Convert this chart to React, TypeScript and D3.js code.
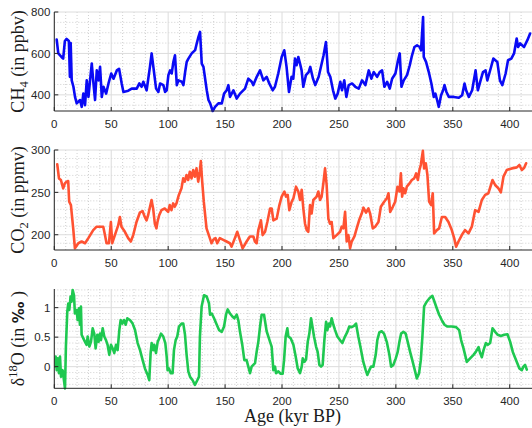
import React from "react";
import * as d3 from "d3";

// ---------- data ----------
const xTicks = [0, 50, 100, 150, 200, 250, 300, 350, 400];

const ch4Ages = [2.1, 3.5, 6.3, 7.8, 9.3, 10.8, 12.8, 13.7, 14.4, 15.3, 16.8, 18.2, 19.7, 22.6, 24.1, 25.5, 27, 28.5, 30, 31.4, 32.9, 34.4, 35.8, 37.3, 38.8, 40.2, 41.7, 43.2, 45.5, 47.6, 50, 52, 54.9, 56.9, 59.2, 60.7, 65, 68, 72.4, 74.7, 76.7, 78.2, 81.1, 84, 85.5, 87, 89.4, 91.4, 92.9, 95.8, 97.3, 98.7, 100.2, 101.7, 103.1, 104.6, 106, 107.6, 109, 112, 113.4, 114.9, 116.3, 117.8, 120.7, 123.7, 125.1, 126.6, 128, 129.5, 131, 133.9, 135.4, 136.9, 139.1, 141.2, 144.1, 147.1, 149.1, 151.4, 152.9, 154.3, 157.3, 160.2, 163.1, 167.5, 170.4, 173.4, 174.8, 177.8, 180.7, 183.6, 186.5, 188.8, 191.8, 193.8, 196.7, 199.7, 202, 204, 206.1, 208.4, 209.9, 211.4, 212.8, 214.3, 215.8, 217.2, 218.7, 221, 223.4, 224.8, 227.2, 229.2, 232.2, 234.5, 236.5, 238.6, 240.4, 242.4, 244.8, 246.8, 248.9, 251.2, 252.7, 254.7, 256.5, 258.6, 261.5, 264.4, 267.4, 270.3, 273.2, 276.2, 278.5, 280.5, 283.5, 285.8, 287.9, 289.9, 292.3, 294.6, 296.7, 299.6, 301.6, 303.4, 304.9, 306.9, 309.8, 312.2, 314.2, 316.3, 318.6, 321, 322.1, 323.9, 324.5, 326.5, 328.9, 331.2, 333.3, 334.7, 336.2, 337.7, 339.7, 341.5, 342.7, 344.4, 346.5, 350.9, 355.3, 358.2, 360.3, 361.7, 364.1, 367, 370, 372, 374.4, 376.5, 378.8, 380.3, 383.2, 385.6, 389.1, 391.4, 393.5, 396.4, 398.5, 401.4, 403.8, 406.1, 407.3, 409.1, 412.6, 415.5, 417.9];
const ch4Values = [667, 600, 583, 575, 660, 670, 660, 487, 650, 470, 439, 390, 359, 375, 342, 406, 350, 470, 390, 470, 551, 455, 375, 518, 470, 535, 390, 439, 406, 455, 503, 478, 518, 526, 455, 414, 420, 430, 430, 455, 439, 463, 422, 535, 600, 535, 430, 414, 455, 447, 414, 422, 495, 518, 503, 559, 591, 447, 470, 463, 447, 510, 559, 575, 600, 616, 648, 680, 704, 551, 535, 422, 375, 359, 322, 342, 359, 359, 406, 422, 447, 390, 422, 382, 406, 430, 478, 463, 447, 487, 518, 470, 487, 455, 422, 439, 503, 583, 615, 535, 414, 487, 478, 575, 543, 583, 551, 518, 439, 495, 510, 535, 478, 447, 487, 543, 591, 655, 510, 487, 422, 382, 406, 463, 422, 470, 390, 447, 455, 439, 430, 470, 447, 518, 478, 510, 487, 510, 518, 439, 463, 430, 478, 503, 559, 600, 439, 470, 495, 543, 591, 631, 639, 631, 615, 776, 583, 559, 510, 455, 390, 406, 375, 342, 398, 422, 447, 414, 390, 390, 386, 398, 455, 422, 390, 422, 518, 422, 470, 510, 518, 470, 526, 575, 559, 470, 447, 503, 567, 575, 600, 672, 631, 648, 631, 664, 696];

const co2Ages = [2.6, 4.1, 5.8, 7.8, 9.3, 10.8, 12.2, 13.1, 14.6, 16.6, 18.1, 21.1, 24, 27, 29.9, 34.2, 37.2, 43, 44.5, 45.9, 48, 49.7, 50.9, 53.2, 56.1, 57.6, 59, 62, 64.9, 67.2, 69.3, 72.2, 75.1, 77.5, 79.5, 81, 82.4, 85.4, 86.8, 88.3, 89.7, 90.6, 92.1, 94.1, 97, 100, 101.4, 102.9, 104.4, 105.8, 107.3, 109.4, 111.7, 113.2, 114.6, 116.1, 117.6, 119, 120.5, 122, 123.4, 124.9, 126.4, 127.8, 128.7, 129.9, 131.3, 133.7, 136.6, 138.1, 139.6, 141.6, 143.1, 145.4, 148.4, 151.3, 154.2, 155.7, 158.6, 160.7, 163, 165.4, 168.9, 171.8, 174.8, 176.2, 177.7, 179.2, 181.5, 183, 185.1, 187.1, 189.5, 190.9, 192.4, 195.3, 197.7, 199.7, 202.1, 203.5, 205, 206.4, 208.5, 210, 212.3, 214.3, 215.8, 217.3, 218.7, 220.2, 221.7, 223.1, 224.6, 226, 227.5, 230.4, 231.9, 233.4, 234.8, 236.3, 237.8, 239.2, 240.7, 242.1, 243.6, 245.1, 248, 251, 252.4, 253.9, 255.4, 256.8, 258.3, 259.8, 261.2, 263.6, 265.6, 267.7, 270, 271.5, 273.8, 275.9, 277.4, 279.7, 281.8, 284.7, 286.8, 289.7, 292.1, 293.5, 295, 297.3, 299.4, 301.4, 303.2, 304.4, 305.5, 306.7, 308.2, 309.6, 312, 314, 316.1, 317.8, 319.3, 320.7, 321.9, 323.7, 324.8, 326.3, 327.7, 329.2, 331, 332.4, 333.6, 336, 338, 340.4, 343.3, 346.2, 349.1, 351.2, 352.9, 355, 357.9, 360.8, 363.8, 366.7, 369.6, 372.6, 375.5, 378.4, 381.3, 384.9, 387.2, 390.1, 392.2, 394.5, 397.4, 401.8, 406.2, 408.5, 410.6, 412.7, 414.4];
const co2Values = [283, 266.5, 264.6, 254.7, 260.6, 262.6, 263.4, 239, 235, 207.5, 184, 190, 192, 190, 196, 205.5, 209.5, 209.5, 199.6, 190, 190, 215, 190, 199.6, 211, 221, 209.5, 203.5, 196, 192, 199.6, 215, 226, 228, 221, 217, 223, 241, 231, 213, 207.5, 215, 223, 229, 231, 227, 235, 229, 237, 233, 237, 247, 254.7, 266.5, 262.6, 270.5, 264.6, 274.4, 266.5, 276.4, 268.5, 278.3, 262.6, 274.4, 287, 262.6, 239, 207.5, 196, 190, 194, 196, 190, 196, 194, 192, 190, 186, 196, 203.5, 194, 184, 192, 198, 198, 192, 190, 205.5, 217, 199.6, 203.5, 215, 231, 231, 217, 219, 235, 245, 251, 245, 247, 229, 239, 243, 256.7, 251, 241, 253, 231, 213, 205.5, 203.5, 235, 225, 241, 245, 251, 241, 245, 260.6, 278.3, 258.7, 219, 213, 215, 196, 199.6, 203.5, 209.5, 207.5, 227, 192, 199.6, 184, 192, 198, 207.5, 217, 225, 232, 226, 231, 225, 207.5, 209.5, 215, 233, 239, 243, 249, 227, 233, 239, 256.7, 251, 272.4, 245, 254.7, 249, 256.7, 260.6, 264.6, 266.5, 272.4, 264.6, 276.4, 282.3, 299, 278.3, 284.3, 270.5, 239, 235, 249, 201.6, 205.5, 207.5, 221, 221, 215, 205.5, 196, 186, 192, 199.6, 205.5, 201.6, 209.5, 229, 227, 241, 247, 249, 264.6, 258.7, 254.7, 250, 268.5, 276.4, 278.3, 279.5, 282.3, 276.4, 279, 284.3];

const d18Ages = [0, 1.2, 2.1, 2.9, 4.1, 5, 5.9, 7.3, 8.8, 9.4, 10.2, 11.4, 12.3, 13.2, 14.3, 15.2, 16.1, 17.3, 18.1, 19.6, 20.5, 21.7, 22.5, 23.4, 24, 25.5, 27, 28.4, 29.3, 30.8, 32.2, 33.7, 35.1, 36.3, 37.8, 38.9, 40.1, 41, 42.5, 43.9, 45.4, 46.8, 48.3, 49.8, 51.2, 52.7, 54.2, 55.6, 57.1, 58.3, 59.7, 61.2, 62.7, 64.1, 66.5, 68.8, 70.9, 73.2, 75.3, 77.6, 79.6, 82, 83.4, 84.6, 85.5, 87, 87.8, 89.3, 90.8, 92.2, 93.7, 95.7, 97.5, 98.7, 99.5, 100.7, 102.2, 103.9, 105.1, 106.6, 108, 109.5, 111.8, 113.3, 114.8, 116.2, 117.7, 119.2, 121.5, 123.5, 125.6, 127.1, 127.9, 129.4, 131.5, 133.8, 135.9, 136.8, 138.3, 140.3, 142.7, 144.7, 147.1, 149.1, 150.8, 152.3, 154.3, 156.4, 158.1, 160.2, 161.6, 163.1, 165.1, 166.9, 168.9, 170.4, 171.9, 173.3, 174.8, 176.3, 177.7, 179.2, 180.7, 182.1, 184.2, 186.5, 189.5, 190.9, 192.4, 193.9, 194.7, 196.8, 198.8, 200.6, 201.8, 203.2, 204.7, 205.6, 207.6, 210, 212, 213.8, 215.8, 217.3, 218.2, 219.6, 221.1, 222.6, 224, 225.5, 226.7, 228.1, 229.9, 231.3, 232.8, 234.3, 235.7, 237.2, 238.7, 239.8, 241.3, 242.2, 243.6, 245.1, 246.6, 248.6, 250.9, 253, 255.3, 257.4, 259.1, 261.2, 263.2, 265, 267, 269.1, 271.4, 273.5, 274.9, 276.7, 278.2, 280.2, 282.3, 283.7, 285.5, 287.5, 289.6, 292, 294.3, 295.8, 297.8, 299.9, 301.6, 303.1, 304.6, 306.6, 308.6, 310.4, 312.5, 314.8, 316.9, 318.4, 320.4, 321.9, 323.3, 324.8, 327.1, 329.5, 332.1, 333.9, 335.9, 338, 340.3, 342.7, 345.3, 349.1, 352.9, 355.6, 357.3, 359.4, 362.3, 365.2, 368.2, 370.2, 372.6, 374, 375.5, 377, 379, 380.8, 382.8, 384.9, 387.2, 389.5, 392.2, 395.1, 398, 400.4, 402.7, 405.6, 408.5, 410.6, 412, 413.5, 415];
const d18Values = [0, 0.17, -0.06, 0.14, -0.11, 0.17, -0.17, -0.06, -0.28, -0.37, 0.34, 0.93, 1.07, 0.96, 1.19, 1.1, 1.3, 1.21, 0.9, 0.96, 0.79, 0.99, 0.71, 1.02, 0.54, 0.48, 0.42, 0.37, 0.51, 0.34, 0.42, 0.65, 0.56, 0.31, 0.54, 0.42, 0.56, 0.45, 0.65, 0.51, 0.45, 0.37, 0.2, 0.37, 0.31, 0.23, 0.37, 0.28, 0.62, 0.79, 0.73, 0.79, 0.71, 0.82, 0.79, 0.73, 0.62, 0.4, 0.28, 0.11, -0.03, -0.14, -0.23, 0.23, 0.4, 0.28, 0.37, 0.23, 0.42, 0.48, 0.56, 0.51, 0.4, 0.17, -0.06, -0.03, -0.11, -0.11, 0.28, 0.45, 0.51, 0.68, 0.73, 0.73, 0.54, 0.2, -0.08, -0.17, -0.23, -0.31, -0.23, -0.17, 0.51, 1.02, 1.21, 1.19, 1.07, 0.88, 0.9, 0.82, 0.71, 0.62, 0.59, 0.68, 0.88, 0.97, 0.9, 0.85, 0.82, 0.88, 0.79, 0.59, 0.37, 0.11, 0.11, 0, -0.11, 0, 0.03, 0.06, 0.25, 0.42, 0.68, 0.88, 0.88, 0.6, 0.42, 0.34, -0.06, 0, -0.11, -0.08, -0.12, -0.12, 0.11, 0.51, 0.65, 0.51, 0.48, 0.37, 0.17, -0.03, -0.11, 0, 0.14, 0.08, 0.12, 0.42, 0.56, 0.82, 0.68, 0.51, 0.34, 0.25, 0.03, 0, 0.03, 0.45, 0.76, 0.62, 0.73, 0.68, 0.82, 0.71, 0.62, 0.51, 0.45, 0.4, 0.51, 0.59, 0.68, 0.67, 0.69, 0.73, 0.51, 0.31, 0.08, -0.06, -0.14, -0.06, 0, 0, 0.2, 0.45, 0.58, 0.6, 0.56, 0.42, 0.2, 0, 0.03, 0.14, 0.25, 0.42, 0.56, 0.59, 0.56, 0.42, 0.25, 0.08, -0.08, -0.2, -0.11, 0.11, 0.51, 1.02, 1.1, 1.16, 1.2, 1.1, 0.99, 0.88, 0.79, 0.71, 0.68, 0.68, 0.67, 0.62, 0.45, 0.31, 0.08, 0.14, 0.2, 0.25, 0.33, 0.23, 0.16, 0.28, 0.4, 0.37, 0.4, 0.65, 0.59, 0.54, 0.52, 0.54, 0.55, 0.42, 0.25, 0.11, -0.03, -0.06, 0, 0.03, -0.05];

const ch4Ticks = [400, 600, 800];
const co2Ticks = [200, 250, 300];
const d18Ticks = [0, 0.5, 1];

// ---------- layout ----------
const W = 532;
const H = 428;
const X0 = 54.3;
const X1 = 532.5;
const AXIS = "#262626";
const MAJOR = "#dcdcdc";
const MINOR = "#c4c4c4";
const SERIF = "'Liberation Serif', 'Times New Roman', serif";
const SANS = "'Liberation Sans', Arial, Helvetica, sans-serif";

const xScale = d3.scaleLinear().domain([0, 420]).range([X0, X1]);

type Panel = {
  key: string;
  ages: number[];
  values: number[];
  domain: [number, number];
  top: number;
  bottom: number;
  ticks: number[];
  minorStep: number;
  color: string;
  fmt: (v: number) => string;
};

const panels: Panel[] = [
  { key: "ch4", ages: ch4Ages, values: ch4Values, domain: [322, 800], top: 12, bottom: 111, ticks: ch4Ticks, minorStep: 50, color: "#0a0af5", fmt: (v) => String(v) },
  { key: "co2", ages: co2Ages, values: co2Values, domain: [182, 300], top: 150, bottom: 250, ticks: co2Ticks, minorStep: 10, color: "#ff5232", fmt: (v) => String(v) },
  { key: "d18", ages: d18Ages, values: d18Values, domain: [-0.367, 1.316], top: 289, bottom: 388.3, ticks: d18Ticks, minorStep: 0.1, color: "#1ec850", fmt: (v) => String(v) },
];

function minorValues(lo: number, hi: number, step: number, majors: number[]): number[] {
  const out: number[] = [];
  const start = Math.ceil(lo / step - 1e-9);
  const end = Math.floor(hi / step + 1e-9);
  for (let i = start; i <= end; i++) {
    const v = +(i * step).toFixed(6);
    if (majors.some((m) => Math.abs(m - v) < 1e-6)) continue;
    out.push(v);
  }
  return out;
}

const xMinor = minorValues(0, 420, 10, d3.range(0, 421, 50));

function PanelView({ p }: { p: Panel }) {
  const y = d3.scaleLinear().domain(p.domain).range([p.bottom, p.top]);
  const line = d3
    .line<number>()
    .x((_, i) => xScale(p.ages[i]))
    .y((v) => y(v));
  const yMinor = minorValues(p.domain[0], p.domain[1], p.minorStep, p.ticks);
  const clipId = `clip-${p.key}`;
  return (
    <g>
      <defs>
        <clipPath id={clipId}>
          <rect x={X0} y={p.top - 2} width={X1 - X0} height={p.bottom - p.top + 4} />
        </clipPath>
      </defs>
      {/* minor grid */}
      {xMinor.map((v) => (
        <line key={"xm" + v} x1={xScale(v)} x2={xScale(v)} y1={p.top} y2={p.bottom} stroke={MINOR} strokeWidth={0.8} strokeDasharray="1 2" />
      ))}
      {yMinor.map((v) => (
        <line key={"ym" + v} x1={X0} x2={X1} y1={y(v)} y2={y(v)} stroke={MINOR} strokeWidth={0.8} strokeDasharray="1 2" />
      ))}
      {/* major grid */}
      {xTicks.map((v) => (
        <line key={"xg" + v} x1={xScale(v)} x2={xScale(v)} y1={p.top} y2={p.bottom} stroke={MAJOR} strokeWidth={1} />
      ))}
      {p.ticks.map((v) => (
        <line key={"yg" + v} x1={X0} x2={X1} y1={y(v)} y2={y(v)} stroke={MAJOR} strokeWidth={1} />
      ))}
      {/* data */}
      <path d={line(p.values) || ""} fill="none" stroke={p.color} strokeWidth={2.6} strokeLinejoin="round" strokeLinecap="round" clipPath={`url(#${clipId})`} />
      {/* axes */}
      <line x1={X0} x2={X0} y1={p.top} y2={p.bottom} stroke={AXIS} strokeWidth={1} />
      <line x1={X0} x2={X1} y1={p.bottom} y2={p.bottom} stroke={AXIS} strokeWidth={1} />
      {xTicks.map((v) => (
        <g key={"xt" + v}>
          <line x1={xScale(v)} x2={xScale(v)} y1={p.bottom} y2={p.bottom - 4} stroke={AXIS} strokeWidth={1} />
          <text x={xScale(v)} y={p.bottom + 16.5} textAnchor="middle" fontFamily={SANS} fontSize={11.5} fill={AXIS}>
            {v}
          </text>
        </g>
      ))}
      {p.ticks.map((v) => (
        <g key={"yt" + v}>
          <line x1={X0} x2={X0 + 4} y1={y(v)} y2={y(v)} stroke={AXIS} strokeWidth={1} />
          <text x={X0 - 4} y={y(v)} dy="0.36em" textAnchor="end" fontFamily={SANS} fontSize={11.5} fill={AXIS}>
            {p.fmt(v)}
          </text>
        </g>
      ))}
    </g>
  );
}

export default function App() {
  const mid = (p: Panel) => (p.top + p.bottom) / 2;
  return (
    <svg width={W} height={H} viewBox={`0 0 ${W} ${H}`} style={{ position: "absolute", left: 0, top: 0, background: "#fff" }}>
      <rect x={0} y={0} width={W} height={H} fill="#fff" />
      {panels.map((p) => (
        <PanelView key={p.key} p={p} />
      ))}
      {/* y labels */}
      <text transform={`translate(24,${mid(panels[0])}) rotate(-90)`} textAnchor="middle" fontFamily={SERIF} fontSize={18} fill="#1a1a1a">
        CH<tspan fontSize={12.5} dy={4}>4</tspan>
        <tspan dy={-4}> (in ppbv)</tspan>
      </text>
      <text transform={`translate(24,${mid(panels[1])}) rotate(-90)`} textAnchor="middle" fontFamily={SERIF} fontSize={18} fill="#1a1a1a">
        CO<tspan fontSize={12.5} dy={4}>2</tspan>
        <tspan dy={-4}> (in ppmv)</tspan>
      </text>
      <text transform={`translate(24,${mid(panels[2])}) rotate(-90)`} textAnchor="middle" fontFamily={SERIF} fontSize={18} fill="#1a1a1a">
        δ<tspan fontSize={12.5} dy={-7}>18</tspan>
        <tspan dy={7}>O (in </tspan>
        <tspan fontFamily="'DejaVu Sans', sans-serif" fontWeight="bold" fontSize={15}>‰</tspan>
        <tspan> )</tspan>
      </text>
      <text x={292.5} y={421.5} textAnchor="middle" fontFamily={SERIF} fontSize={18} fill="#1a1a1a">
        Age (kyr BP)
      </text>
    </svg>
  );
}
